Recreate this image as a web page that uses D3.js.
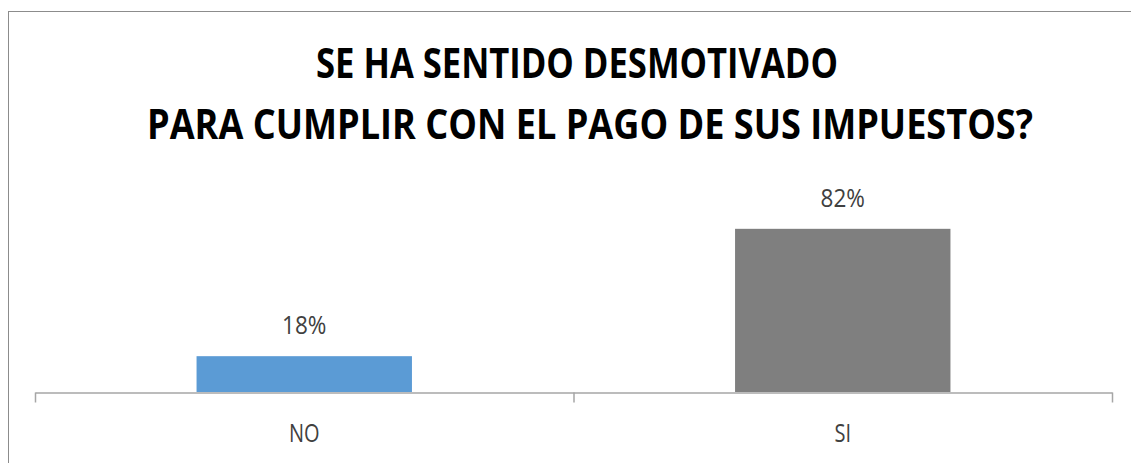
<!DOCTYPE html>
<html><head><meta charset="utf-8">
<script src="https://cdn.jsdelivr.net/npm/d3@7"></script>
<style>
html,body{margin:0;padding:0;background:#fff;}
svg{display:block;}
</style></head>
<body>
<svg id="chart" width="1131" height="463"></svg>
<script>
const categories = ["NO", "SI"];
const values = [0.18, 0.82];
const valueLabels = ["18%", "82%"];
const barColors = ["#5B9BD5", "#7F7F7F"];
const titleLines = ["SE HA SENTIDO DESMOTIVADO", "PARA CUMPLIR CON EL PAGO DE SUS IMPUESTOS?"];

const svg = d3.select("#chart");
const font = "'Open Sans','Noto Sans','DejaVu Sans',sans-serif";

// chart border
svg.append("rect").attr("x", 8.5).attr("y", 11.5).attr("width", 1300).attr("height", 600)
  .attr("fill", "#fff").attr("stroke", "#8c8c8c").attr("stroke-width", 1);

// title: each line fitted horizontally to its measured width
const titleSpec = [{cx: 577, y: 78, w: 522}, {cx: 590, y: 139, w: 886}];
svg.selectAll("text.title").data(titleLines).join("text")
  .attr("class", "title")
  .attr("x", 0).attr("y", 0)
  .attr("text-anchor", "middle")
  .attr("font-family", font).attr("font-weight", "bold").attr("font-size", 42)
  .attr("fill", "#000")
  .text(d => d)
  .attr("transform", function(d, i) {
    const w0 = this.getComputedTextLength();
    const s = titleSpec[i].w / w0;
    return `translate(${titleSpec[i].cx},${titleSpec[i].y}) scale(${s},1)`;
  });

const left = 35, right = 1112, base = 392;
const x = d3.scaleBand().domain(categories).range([left, right]).paddingInner(0.6).paddingOuter(0.3);
const y = d3.scaleLinear().domain([0, 1]).range([base, 193]);

// bars
svg.selectAll("rect.bar").data(categories).join("rect")
  .attr("class", "bar")
  .attr("x", d => x(d))
  .attr("width", x.bandwidth())
  .attr("y", (d, i) => y(values[i]))
  .attr("height", (d, i) => base - y(values[i]))
  .attr("fill", (d, i) => barColors[i]);

// value labels
svg.selectAll("text.vl").data(categories).join("text")
  .attr("class", "vl")
  .attr("x", 0).attr("y", 0)
  .attr("transform", (d, i) => `translate(${x(d) + x.bandwidth() / 2},${y(values[i]) - 22}) scale(0.9,1)`)
  .attr("text-anchor", "middle")
  .attr("font-family", font).attr("font-size", 25).attr("fill", "#404040")
  .text((d, i) => valueLabels[i]);

// axis with boundary ticks
const xb = d3.scaleLinear().domain([0, categories.length]).range([left, right]);
const axisG = svg.append("g").attr("transform", `translate(0,${base + 0.5})`)
  .call(d3.axisBottom(xb).tickValues(d3.range(categories.length + 1)).tickSize(10).tickSizeOuter(0).tickFormat(""));
axisG.select(".domain").attr("stroke", "#a6a6a6").attr("stroke-width", 1.5);
axisG.selectAll(".tick line").attr("stroke", "#a6a6a6").attr("stroke-width", 1.5);

// category labels
const catG = svg.append("g").attr("transform", `translate(0,${base})`)
  .call(d3.axisBottom(x).tickSize(0).tickPadding(0));
catG.select(".domain").remove();
catG.selectAll(".tick text")
  .attr("y", 50).attr("dy", null)
  .attr("transform", "scale(0.8,1)")
  .attr("font-family", font).attr("font-size", 25).attr("fill", "#404040");
</script>
</body></html>
